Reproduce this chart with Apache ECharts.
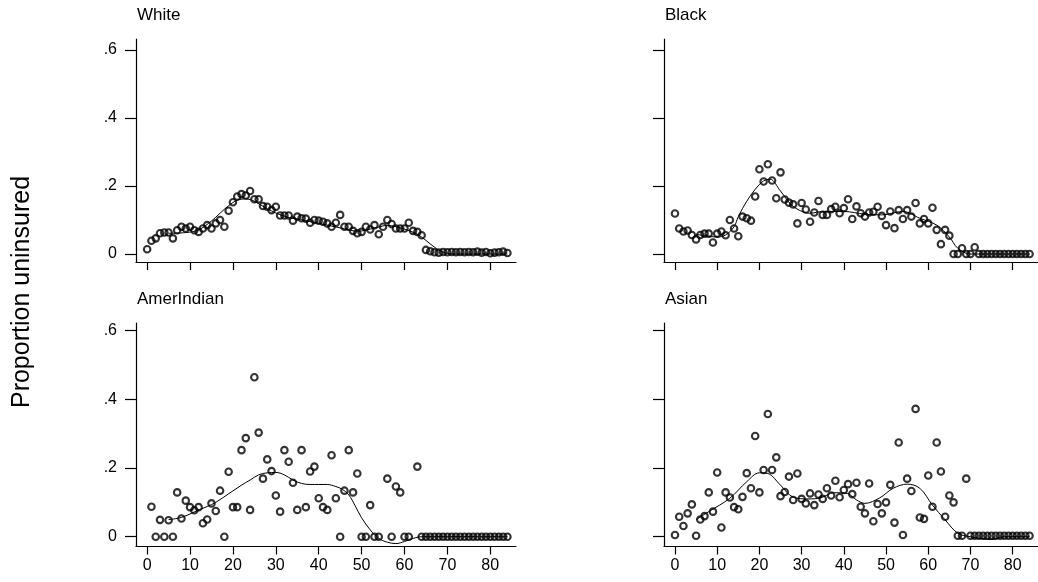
<!DOCTYPE html>
<html>
<head>
<meta charset="utf-8">
<script src="https://cdn.jsdelivr.net/npm/echarts@6/dist/echarts.min.js"></script>
<style>html,body{margin:0;padding:0;background:#fff}#c{width:1038px;height:582px}</style>
</head>
<body>
<div id="c"></div>
<script>
// ---- data ----
const panelTitles = ["White", "Black", "AmerIndian", "Asian"];
const xTicks = [0, 10, 20, 30, 40, 50, 60, 70, 80];
const yTicks = [0, 0.2, 0.4, 0.6];
const yAxisTitle = "Proportion uninsured";

const whiteAges = [0,1,2,3,4,5,6,7,8,9,10,11,12,13,14,15,16,17,18,19,20,21,22,23,24,25,26,27,28,29,30,31,32,33,34,35,36,37,38,39,40,41,42,43,44,45,46,47,48,49,50,51,52,53,54,55,56,57,58,59,60,61,62,63,64,65,66,67,68,69,70,71,72,73,74,75,76,77,78,79,80,81,82,83,84];
const whiteVals = [.014,.039,.046,.061,.063,.063,.046,.070,.080,.075,.080,.070,.065,.075,.085,.075,.090,.100,.080,.127,.152,.169,.176,.172,.185,.161,.161,.141,.139,.129,.139,.113,.113,.113,.098,.110,.105,.104,.092,.100,.098,.095,.090,.080,.092,.115,.080,.080,.068,.061,.065,.080,.072,.085,.058,.080,.100,.088,.075,.075,.075,.092,.068,.065,.055,.012,.008,.005,.004,.006,.005,.006,.005,.006,.005,.006,.005,.007,.004,.006,.002,.004,.005,.007,.003];
const whiteSmoothAges = [5,9,12,15,17,19,21,23,25,28,32,37,42,46,49,53,56,60,63,65,67,69,72,78,84];
const whiteSmoothVals = [.061,.063,.071,.097,.120,.142,.158,.162,.155,.133,.111,.098,.085,.074,.067,.076,.084,.073,.058,.040,.020,.005,0,0,0];

const blackAges = [0,1,2,3,4,5,6,7,8,9,10,11,12,13,14,15,16,17,18,19,20,21,22,23,24,25,26,27,28,29,30,31,32,33,34,35,36,37,38,39,40,41,42,43,44,45,46,47,48,49,50,51,52,53,54,55,56,57,58,59,60,61,62,63,64,65,66,67,68,69,70,71,72,73,74,75,76,77,78,79,80,81,82,83,84];
const blackVals = [.119,.075,.066,.069,.056,.043,.056,.060,.060,.034,.060,.066,.055,.100,.075,.052,.110,.105,.098,.169,.249,.213,.264,.216,.164,.240,.160,.151,.146,.090,.150,.131,.095,.122,.156,.115,.115,.132,.139,.120,.135,.161,.103,.140,.120,.110,.122,.124,.139,.112,.085,.125,.076,.129,.103,.129,.110,.150,.090,.103,.090,.136,.071,.029,.071,.054,0,0,.017,0,0,.020,0,0,0,0,0,0,0,0,0,0,0,0,0];
const blackSmoothAges = [5,8,10,12,14,15,17,19,21,22.5,25,28,32,35,40,45,49,54,58,62,65,67,70,77,84];
const blackSmoothVals = [.058,.052,.050,.056,.080,.110,.155,.190,.215,.220,.185,.140,.120,.125,.125,.117,.115,.125,.105,.085,.050,.017,0,0,0];

const amerAges = [1,2,3,4,5,6,7,8,9,10,11,12,13,14,15,16,17,18,19,20,21,22,23,24,25,26,27,28,29,30,31,32,33,34,35,36,37,38,39,40,41,42,43,44,45,46,47,48,49,50,51,52,53,54,56,57,58,59,60,61,63,64,65,66,67,68,69,70,71,72,73,74,75,76,77,78,79,80,81,82,83,84];
const amerVals = [.087,0,.049,0,.048,0,.129,.053,.105,.086,.077,.086,.039,.050,.097,.075,.134,0,.189,.086,.086,.252,.287,.078,.464,.303,.169,.225,.191,.120,.073,.252,.218,.157,.078,.252,.086,.190,.204,.112,.086,.078,.237,.112,0,.134,.252,.129,.184,0,0,.092,0,0,.169,0,.146,.129,0,0,.204,0,0,0,0,0,0,0,0,0,0,0,0,0,0,0,0,0,0,0,0,0];
const amerSmoothAges = [5,8,11,14,16,19,22,24,26,28,30,32,34,36,38,40,42,44,45.5,47,48.5,50,52,54,56,58,60,62,64,70,77,84];
const amerSmoothVals = [.050,.056,.072,.088,.100,.125,.150,.165,.180,.186,.187,.180,.165,.155,.152,.152,.152,.146,.138,.122,.090,.055,.020,-.005,-.016,-.020,-.014,-.005,0,0,0,0];

const asianAges = [0,1,2,3,4,5,6,7,8,9,10,11,12,13,14,15,16,17,18,19,20,21,22,23,24,25,26,27,28,29,30,31,32,33,34,35,36,37,38,39,40,41,42,43,44,45,46,47,48,49,50,51,52,53,54,55,56,57,58,59,60,61,62,63,64,65,66,67,68,69,70,71,72,73,74,75,76,77,78,79,80,81,82,83,84];
const asianVals = [.005,.058,.031,.068,.094,.003,.050,.060,.129,.073,.187,.027,.129,.114,.086,.080,.116,.185,.141,.293,.129,.194,.357,.194,.231,.118,.130,.175,.107,.184,.110,.097,.126,.092,.123,.110,.141,.120,.163,.115,.136,.153,.124,.157,.087,.068,.155,.045,.095,.068,.100,.151,.041,.274,.005,.169,.133,.372,.056,.052,.178,.087,.274,.190,.058,.120,.100,.003,.003,.169,.003,.003,.003,.003,.003,.003,.003,.003,.003,.003,.003,.003,.003,.003,.003];
const asianSmoothAges = [5,8,13,17,20,22,25,28,31.5,34.5,37.7,40.8,43,45,48.5,51.7,55,58,61,64,67,70,75,78,84];
const asianSmoothVals = [.050,.073,.112,.160,.186,.184,.150,.115,.110,.113,.128,.126,.107,.097,.113,.141,.153,.141,.092,.049,.010,0,-.008,0,0];

// ---- chart ----
const FONT = "'Liberation Sans', Arial, Helvetica, sans-serif";
const pts = (a, v) => a.map((x, i) => [x, v[i]]);
const panels = [
  [whiteAges, whiteVals, whiteSmoothAges, whiteSmoothVals],
  [blackAges, blackVals, blackSmoothAges, blackSmoothVals],
  [amerAges, amerVals, amerSmoothAges, amerSmoothVals],
  [asianAges, asianVals, asianSmoothAges, asianSmoothVals]
];
const gridPos = [
  {left: 136, top: 39, width: 380, height: 223},
  {left: 664, top: 39, width: 380, height: 223},
  {left: 136, top: 323, width: 380, height: 223.5},
  {left: 664, top: 323, width: 380, height: 223.5}
];
const yRange = [[-0.0235, 0.632], [-0.0235, 0.632], [-0.0285, 0.622], [-0.0285, 0.622]];
const titlePos = [[137, 7], [665, 7], [137, 291], [665, 291]];

const chart = echarts.init(document.getElementById('c'), null, {renderer: 'canvas'});
const option = {
  animation: false,
  backgroundColor: '#fff',
  title: panelTitles.map((t, i) => ({
    text: t, left: titlePos[i][0], top: titlePos[i][1], padding: 0,
    textStyle: {fontFamily: FONT, fontSize: 17, fontWeight: 'normal', color: '#000'}
  })),
  graphic: [{
    type: 'text', x: 22, y: 292, rotation: Math.PI / 2,
    style: {text: yAxisTitle, fontFamily: FONT, fontSize: 25, fill: '#000', textAlign: 'center', textVerticalAlign: 'middle'}
  }],
  grid: gridPos.map(g => Object.assign({containLabel: false}, g)),
  xAxis: gridPos.map((g, i) => ({
    type: 'value', gridIndex: i, min: -2.6, max: 86, position: 'bottom',
    axisLine: {show: true, onZero: false, lineStyle: {color: '#000', width: 1.2}},
    axisTick: {show: true, length: 8, customValues: xTicks, lineStyle: {color: '#000', width: 1.2}},
    axisLabel: {show: i >= 2, customValues: xTicks, margin: 11, fontFamily: FONT, fontSize: 16, color: '#000'},
    splitLine: {show: false}
  })),
  yAxis: gridPos.map((g, i) => ({
    type: 'value', gridIndex: i, min: yRange[i][0], max: yRange[i][1], position: 'left',
    axisLine: {show: true, onZero: false, lineStyle: {color: '#000', width: 1.2}},
    axisTick: {show: true, length: 11, customValues: yTicks, lineStyle: {color: '#000', width: 1.2}},
    axisLabel: {show: i % 2 === 0, customValues: yTicks, margin: 19, fontFamily: FONT, fontSize: 16, color: '#000',
      formatter: v => v === 0 ? '0' : String(+v.toFixed(2)).replace(/^0\./, '.')},
    splitLine: {show: false}
  })),
  series: []
};
panels.forEach((p, i) => {
  option.series.push({
    type: 'line', xAxisIndex: i, yAxisIndex: i, data: pts(p[2], p[3]),
    smooth: 0.35, showSymbol: false, symbol: 'none', z: 1,
    lineStyle: {color: '#000', width: 1}
  });
  option.series.push({
    type: 'scatter', xAxisIndex: i, yAxisIndex: i, data: pts(p[0], p[1]),
    symbol: 'circle', symbolSize: 6.5, z: 2,
    itemStyle: {color: 'rgba(0,0,0,0)', borderColor: '#000', borderWidth: 2.1}
  });
});
chart.setOption(option);
</script>
</body>
</html>
